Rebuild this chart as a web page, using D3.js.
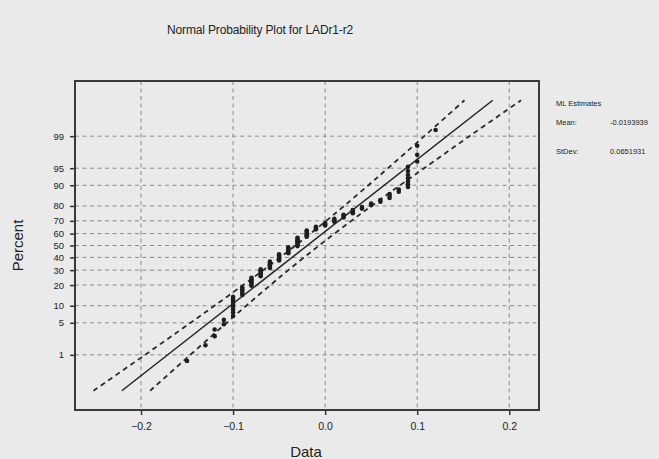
<!DOCTYPE html>
<html>
<head>
<meta charset="utf-8">
<script src="https://cdn.jsdelivr.net/npm/d3@7"></script>
<style>
  body { margin: 0; background: #eaeaea; }
  svg { display: block; font-family: "Liberation Sans", Arial, sans-serif; }
</style>
</head>
<body>
<div id="chart"></div>
<script>
// observed data values (0.01 resolution) and how many points sit at each
var dataValues = [-0.15, -0.13, -0.12, -0.11, -0.10, -0.09, -0.08, -0.07, -0.06, -0.05, -0.04,
  -0.03, -0.02, -0.01, 0.00, 0.01, 0.02, 0.03, 0.04, 0.05, 0.06, 0.07, 0.08, 0.09, 0.10, 0.12];
var dataCounts = [1, 1, 2, 2, 8, 5, 6, 6, 6, 6, 6,
  8, 6, 3, 3, 3, 3, 3, 2, 2, 2, 3, 2, 7, 3, 1];

// ML estimates shown in the legend
var meanEst = -0.0193939;
var sdEst = 0.0651931;

// fitted line runs between these percents
var fitPercents = [0.1, 99.9];

// confidence band (x values at each percent level)
var bandPercents = [0.1, 1, 5, 10, 20, 30, 50, 70, 80, 90, 95, 99, 99.9];
var bandLeft = [-0.2516, -0.1956, -0.1462, -0.1202, -0.0891, -0.0672, -0.0322,
  0.0012, 0.0206, 0.0469, 0.0683, 0.1077, 0.1514];
var bandRight = [-0.1901, -0.1464, -0.1070, -0.0857, -0.0594, -0.0400, -0.0066,
  0.0284, 0.0503, 0.0814, 0.1075, 0.1568, 0.2128];

var yTickPercents = [1, 5, 10, 20, 30, 40, 50, 60, 70, 80, 90, 95, 99];
var xTickValues = [-0.2, -0.1, 0.0, 0.1, 0.2];

// inverse normal cdf (Acklam)
function probit(p) {
  var a = [-39.69683028665376, 220.9460984245205, -275.9285104469687, 138.3577518672690, -30.66479806614716, 2.506628277459239];
  var b = [-54.47609879822406, 161.5858368580409, -155.6989798598866, 66.80131188771972, -13.28068155288572];
  var c = [-0.007784894002430293, -0.3223964580411365, -2.400758277161838, -2.549732539343734, 4.374664141464968, 2.938163982698783];
  var d = [0.007784695709041462, 0.3224671290700398, 2.445134137142996, 3.754408661907416];
  var q, r;
  if (p < 0.02425) {
    q = Math.sqrt(-2 * Math.log(p));
    return (((((c[0] * q + c[1]) * q + c[2]) * q + c[3]) * q + c[4]) * q + c[5]) /
      ((((d[0] * q + d[1]) * q + d[2]) * q + d[3]) * q + 1);
  }
  if (p > 1 - 0.02425) {
    q = Math.sqrt(-2 * Math.log(1 - p));
    return -(((((c[0] * q + c[1]) * q + c[2]) * q + c[3]) * q + c[4]) * q + c[5]) /
      ((((d[0] * q + d[1]) * q + d[2]) * q + d[3]) * q + 1);
  }
  q = p - 0.5;
  r = q * q;
  return (((((a[0] * r + a[1]) * r + a[2]) * r + a[3]) * r + a[4]) * r + a[5]) * q /
    (((((b[0] * r + b[1]) * r + b[2]) * r + b[3]) * r + b[4]) * r + 1);
}

var W = 659, H = 459;
var margin = { top: 81, right: 120, bottom: 49, left: 75 },
  width = W - margin.left - margin.right,
  height = H - margin.top - margin.bottom;

var x = d3.scaleLinear().domain([-0.2717, 0.2323]).range([0, width]);
// y works on the normal quantile (z) scale
var y = d3.scaleLinear().domain([-3.5, 3.5]).range([height, 0]);
function yp(pct) { return y(probit(pct / 100)); }

var svg = d3.select("#chart").append("svg")
  .attr("width", W)
  .attr("height", H);

svg.append("rect").attr("width", W).attr("height", H).attr("fill", "#eaeaea");

// title
svg.append("text")
  .attr("x", 260).attr("y", 34)
  .attr("text-anchor", "middle")
  .style("font-size", "12px")
  .style("letter-spacing", "-0.15px")
  .attr("fill", "#222")
  .text("Normal Probability Plot for LADr1-r2");

var g = svg.append("g")
  .attr("transform", "translate(" + margin.left + "," + margin.top + ")");

// grid lines
g.selectAll(".hgrid").data(yTickPercents).enter().append("line")
  .attr("class", "hgrid")
  .attr("x1", 0).attr("x2", width)
  .attr("y1", function(d) { return yp(d); })
  .attr("y2", function(d) { return yp(d); })
  .attr("stroke", "#8a8a8a").attr("stroke-width", 1)
  .attr("stroke-dasharray", "4,3.5");

g.selectAll(".vgrid").data(xTickValues).enter().append("line")
  .attr("class", "vgrid")
  .attr("x1", function(d) { return x(d); })
  .attr("x2", function(d) { return x(d); })
  .attr("y1", 0).attr("y2", height)
  .attr("stroke", "#8a8a8a").attr("stroke-width", 1)
  .attr("stroke-dasharray", "4,3.5");

// axes
var yAxis = d3.axisLeft(y)
  .tickValues(yTickPercents.map(function(p) { return probit(p / 100); }))
  .tickFormat(function(d, i) { return yTickPercents[i]; })
  .tickSize(5).tickPadding(6);
var yg = g.append("g").call(yAxis);

var xAxis = d3.axisBottom(x)
  .tickValues(xTickValues)
  .tickFormat(d3.format(".1f"))
  .tickSize(5).tickPadding(8);
var xg = g.append("g").attr("transform", "translate(0," + height + ")").call(xAxis);

[yg, xg].forEach(function(a) {
  a.select(".domain").remove();
  a.selectAll(".tick line").attr("stroke", "#333").attr("stroke-width", 1.5);
  a.selectAll(".tick text").attr("fill", "#222").style("font-size", "9.5px");
});
xg.selectAll(".tick text").style("font-size", "10.5px");

// frame
g.append("rect")
  .attr("width", width).attr("height", height)
  .attr("fill", "none").attr("stroke", "#3a3a3a").attr("stroke-width", 2);

// confidence bands
var bandLine = d3.line()
  .x(function(d) { return x(d[0]); })
  .y(function(d) { return yp(d[1]); })
  .curve(d3.curveCatmullRom);

[bandLeft, bandRight].forEach(function(band) {
  g.append("path")
    .datum(band.map(function(v, i) { return [v, bandPercents[i]]; }))
    .attr("d", bandLine)
    .attr("fill", "none")
    .attr("stroke", "#2a2a2a").attr("stroke-width", 1.8)
    .attr("stroke-dasharray", "5,4");
});

// fitted line
g.append("path")
  .datum(fitPercents.map(function(p) { return [meanEst + sdEst * probit(p / 100), p]; }))
  .attr("d", bandLine)
  .attr("fill", "none")
  .attr("stroke", "#222").attr("stroke-width", 1.5);

// points, plotted at median ranks
var sample = [];
dataValues.forEach(function(v, i) {
  for (var k = 0; k < dataCounts[i]; k++) sample.push(v);
});
var n = sample.length;
g.selectAll(".pt").data(sample).enter().append("circle")
  .attr("class", "pt")
  .attr("cx", function(d) { return x(d); })
  .attr("cy", function(d, i) { return yp(100 * (i + 1 - 0.3) / (n + 0.4)); })
  .attr("r", 2.3)
  .attr("fill", "#1e1e1e");

// axis titles
svg.append("text")
  .attr("x", 306).attr("y", 457)
  .attr("text-anchor", "middle")
  .style("font-size", "15px").attr("fill", "#222")
  .text("Data");

svg.append("text")
  .attr("transform", "translate(23," + (margin.top + height / 2) + ") rotate(-90)")
  .attr("text-anchor", "middle")
  .style("font-size", "15px").attr("fill", "#222")
  .text("Percent");

// ML estimates legend
var leg = svg.append("g").style("font-size", "7.5px").attr("fill", "#222");
leg.append("text").attr("x", 556).attr("y", 106).text("ML Estimates");
leg.append("text").attr("x", 556).attr("y", 125).text("Mean:");
leg.append("text").attr("x", 610).attr("y", 125).text(meanEst);
leg.append("text").attr("x", 556).attr("y", 154).text("StDev:");
leg.append("text").attr("x", 610).attr("y", 154).text(sdEst);
</script>
</body>
</html>
